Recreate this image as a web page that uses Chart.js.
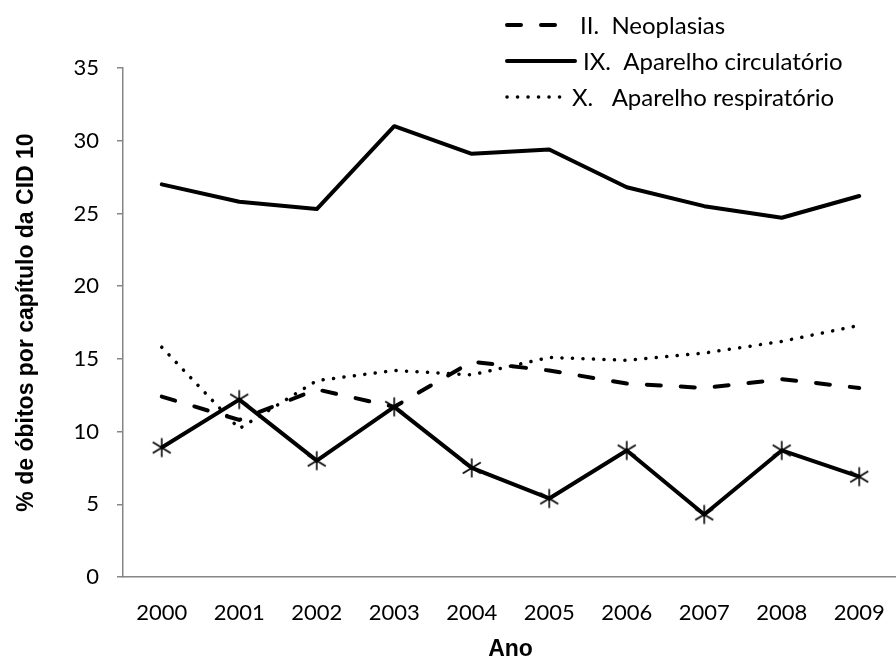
<!DOCTYPE html>
<html><head><meta charset="utf-8">
<script src="https://cdn.jsdelivr.net/npm/chart.js@4/dist/chart.umd.min.js"></script>
<style>
html,body{margin:0;padding:0;background:#fff;overflow:hidden;}
#wrap{position:relative;width:896px;height:660px;overflow:hidden;}
canvas{display:block;}
</style></head><body>
<div id="wrap"><canvas id="c" width="912" height="663"></canvas></div>
<script>
const years = ['2000','2001','2002','2003','2004','2005','2006','2007','2008','2009'];
const neoplasias   = [12.4, 10.8, 12.9, 11.7, 14.8, 14.2, 13.3, 13.0, 13.6, 13.0];
const circulatorio = [27.0, 25.8, 25.3, 31.0, 29.1, 29.4, 26.8, 25.5, 24.7, 26.2];
const respiratorio = [15.8, 10.2, 13.5, 14.2, 13.9, 15.1, 14.9, 15.4, 16.2, 17.3];
const serieAsterisco = [8.9, 12.2, 8.0, 11.7, 7.5, 5.4, 8.7, 4.3, 8.7, 6.9];
const yTicks = [0, 5, 10, 15, 20, 25, 30, 35];
const seriesNames = ['II.  Neoplasias', 'IX.  Aparelho circulatório', 'X.   Aparelho respiratório'];
const xTitle = 'Ano';
const yTitle = '% de óbitos por capítulo da CID 10';

const AXIS = '#868686';
const TXT = '#000000';
const FONT = 'Lato, "Open Sans", sans-serif';
const TFONT = '"Liberation Sans", Arial, sans-serif';

// asterisk marker (vertical bar + X), as in the reference
const asterisk = document.createElement('canvas');
asterisk.width = 22; asterisk.height = 22;
(function () {
  const g = asterisk.getContext('2d');
  g.strokeStyle = '#000';
  g.lineWidth = 1.6;
  g.lineCap = 'butt';
  g.beginPath();
  g.moveTo(11, 1.5); g.lineTo(11, 20.5);
  g.moveTo(2, 5.5); g.lineTo(20, 16.5);
  g.moveTo(2, 16.5); g.lineTo(20, 5.5);
  g.stroke();
})();

const legendPlugin = {
  id: 'overlayLegend',
  afterDraw(chart) {
    const ctx = chart.ctx;
    const rows = [25, 61, 97];
    const lineEnds = [562, 575, 566];
    const textX = [580, 583, 572];
    ctx.save();
    ctx.font = '24px ' + FONT;
    ctx.textBaseline = 'middle';
    ctx.fillStyle = TXT;
    let r = 0;
    chart.data.datasets.forEach((ds) => {
      if (!ds.inLegend) return;
      const y = rows[r];
      ctx.strokeStyle = ds.borderColor;
      ctx.lineWidth = ds.borderWidth;
      ctx.lineCap = ds.borderCapStyle || 'butt';
      ctx.setLineDash(ds.borderDash || []);
      ctx.beginPath();
      ctx.moveTo(507, y);
      ctx.lineTo(lineEnds[r], y);
      ctx.stroke();
      ctx.setLineDash([]);
      ctx.fillText(ds.label, textX[r], y + 1);
      r++;
    });
    ctx.restore();
  }
};

new Chart(document.getElementById('c'), {
  type: 'line',
  data: {
    labels: years,
    datasets: [
      { label: seriesNames[0], data: neoplasias, inLegend: true,
        borderColor: '#000', borderWidth: 4, borderDash: [14, 20], borderCapStyle: 'round',
        pointRadius: 0, tension: 0, fill: false },
      { label: seriesNames[1], data: circulatorio, inLegend: true,
        borderColor: '#000', borderWidth: 4, borderCapStyle: 'round', borderJoinStyle: 'round',
        pointRadius: 0, tension: 0, fill: false },
      { label: seriesNames[2], data: respiratorio, inLegend: true,
        borderColor: '#000', borderWidth: 3.5, borderDash: [0.1, 10.4], borderCapStyle: 'round',
        pointRadius: 0, tension: 0, fill: false },
      { label: '', data: serieAsterisco, inLegend: false,
        borderColor: '#000', borderWidth: 4, borderJoinStyle: 'round',
        pointStyle: asterisk, pointRadius: 10,
        tension: 0, fill: false }
    ]
  },
  options: {
    responsive: false,
    animation: false,
    devicePixelRatio: 1,
    layout: { padding: { left: 0, right: 3, top: 68, bottom: 0 } },
    plugins: { legend: { display: false }, tooltip: { enabled: false }, title: { display: false } },
    scales: {
      x: {
        type: 'category',
        offset: true,
        grid: { display: false, offset: true },
        border: { display: true, color: AXIS, width: 1.5 },
        ticks: { color: TXT, font: { family: FONT, size: 22 }, padding: 15, maxRotation: 0, autoSkip: false },
        title: { display: true, text: xTitle, color: TXT,
          font: { family: TFONT, size: 23, weight: 'bold' },
          padding: { top: 0, bottom: 0 } },
        afterFit(s) { s.height = 86; }
      },
      y: {
        min: 0, max: 35,
        afterBuildTicks(s) { s.ticks = yTicks.map(v => ({ value: v })); },
        grid: { display: true, drawOnChartArea: false, drawTicks: true, tickLength: 6, color: AXIS, lineWidth: 1.5 },
        border: { display: true, color: AXIS, width: 1.5 },
        ticks: { color: TXT, font: { family: FONT, size: 22 }, padding: 18 },
        title: { display: true, text: yTitle, color: TXT,
          font: { family: TFONT, size: 23, weight: 'bold' },
          padding: { top: 13, bottom: 0 } },
        afterFit(s) { s.width = 123; }
      }
    }
  },
  plugins: [legendPlugin]
});
</script>
</body></html>
